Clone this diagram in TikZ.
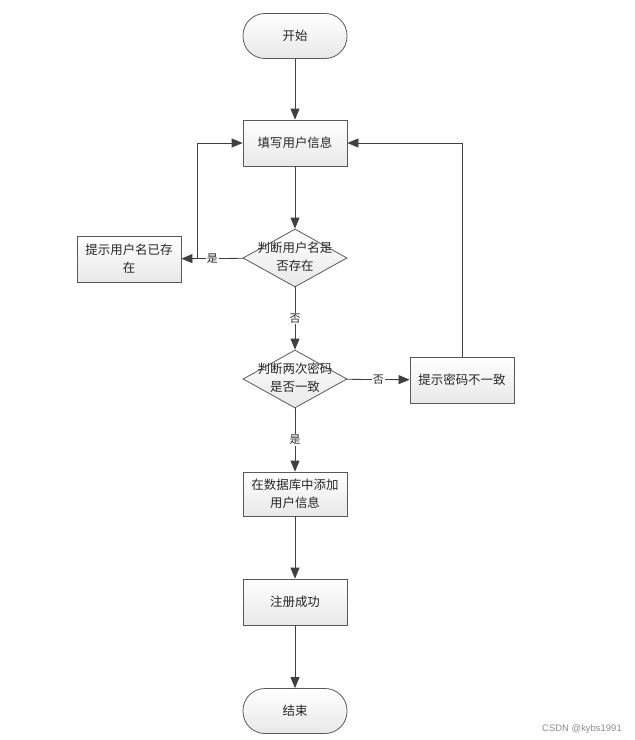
\documentclass[tikz,border=0pt]{standalone}
\usepackage{fontspec}
\setmainfont{Noto Sans CJK SC}
\newfontfamily\wmfont{Liberation Sans}
\usetikzlibrary{arrows.meta,shapes.geometric}

\begin{document}
\begin{tikzpicture}[x=1bp, y=-1bp,
    line/.style={draw=black!75, line width=0.8bp},
    flow/.style={line, -{Triangle[length=11bp,width=9bp]}},
    procbox/.style={draw=black!65, line width=0.8bp, top color=white,
      bottom color=black!9, minimum width=104bp, minimum height=46bp,
      align=center, inner sep=2bp, text=black!85,
      font=\fontsize{12.5}{18}\selectfont},
    termbox/.style={procbox, rounded corners=22bp, minimum height=45bp},
    decision/.style={draw=black!65, line width=0.8bp, diamond, top color=white,
      bottom color=black!9, minimum width=104bp, minimum height=58bp,
      inner sep=0pt},
    dtext/.style={align=center, text=black!85, font=\fontsize{12.5}{18}\selectfont},
    choice/.style={fill=white, inner sep=1bp, text=black!85,
      font=\fontsize{11}{13}\selectfont},
  ]
  \useasboundingbox (0,0) rectangle (635,740);

  % main column
  \node[termbox] (start) at (295,36) {开始};
  \node[procbox] (fill) at (295,143) {填写用户信息};
  \node[decision] (chkname) at (295,258) {};
  \node[dtext] (chknamet) at (295,257) {判断用户名是\\否存在};
  \node[decision] (chkpwd) at (295,379) {};
  \node[dtext] (chkpwdt) at (295,378) {判断两次密码\\是否一致};
  \node[procbox, minimum height=44bp] (adddb) at (295,494) {在数据库中添加\\用户信息};
  \node[procbox] (success) at (295,602) {注册成功};
  \node[termbox] (end) at (295,711) {结束};

  % side boxes
  \node[procbox] (nameexists) at (129,259) {提示用户名已存\\在};
  \node[procbox] (pwdwarn) at (462,380) {提示密码不一致};
  \coordinate (back) at (197,258);

  % connectors
  \draw[flow] (start) -- (fill);
  \draw[flow] (fill) -- (chkname);
  \draw[flow] (chkname) -- node[choice] {是} (nameexists);
  \draw[flow] (back) |- (fill);
  \draw[flow] (chkname) -- node[choice] {否} (chkpwd);
  \draw[flow] (chkpwd) -- node[choice] {否} (pwdwarn);
  \draw[flow] (pwdwarn) |- (fill);
  \draw[flow] (chkpwd) -- node[choice] {是} (adddb);
  \draw[flow] (adddb) -- (success);
  \draw[flow] (success) -- (end);

  \node[text=black!45, font=\wmfont\fontsize{9.5}{11}\selectfont] (mark) at (582,729) {CSDN @kybs1991};
\end{tikzpicture}
\end{document}
